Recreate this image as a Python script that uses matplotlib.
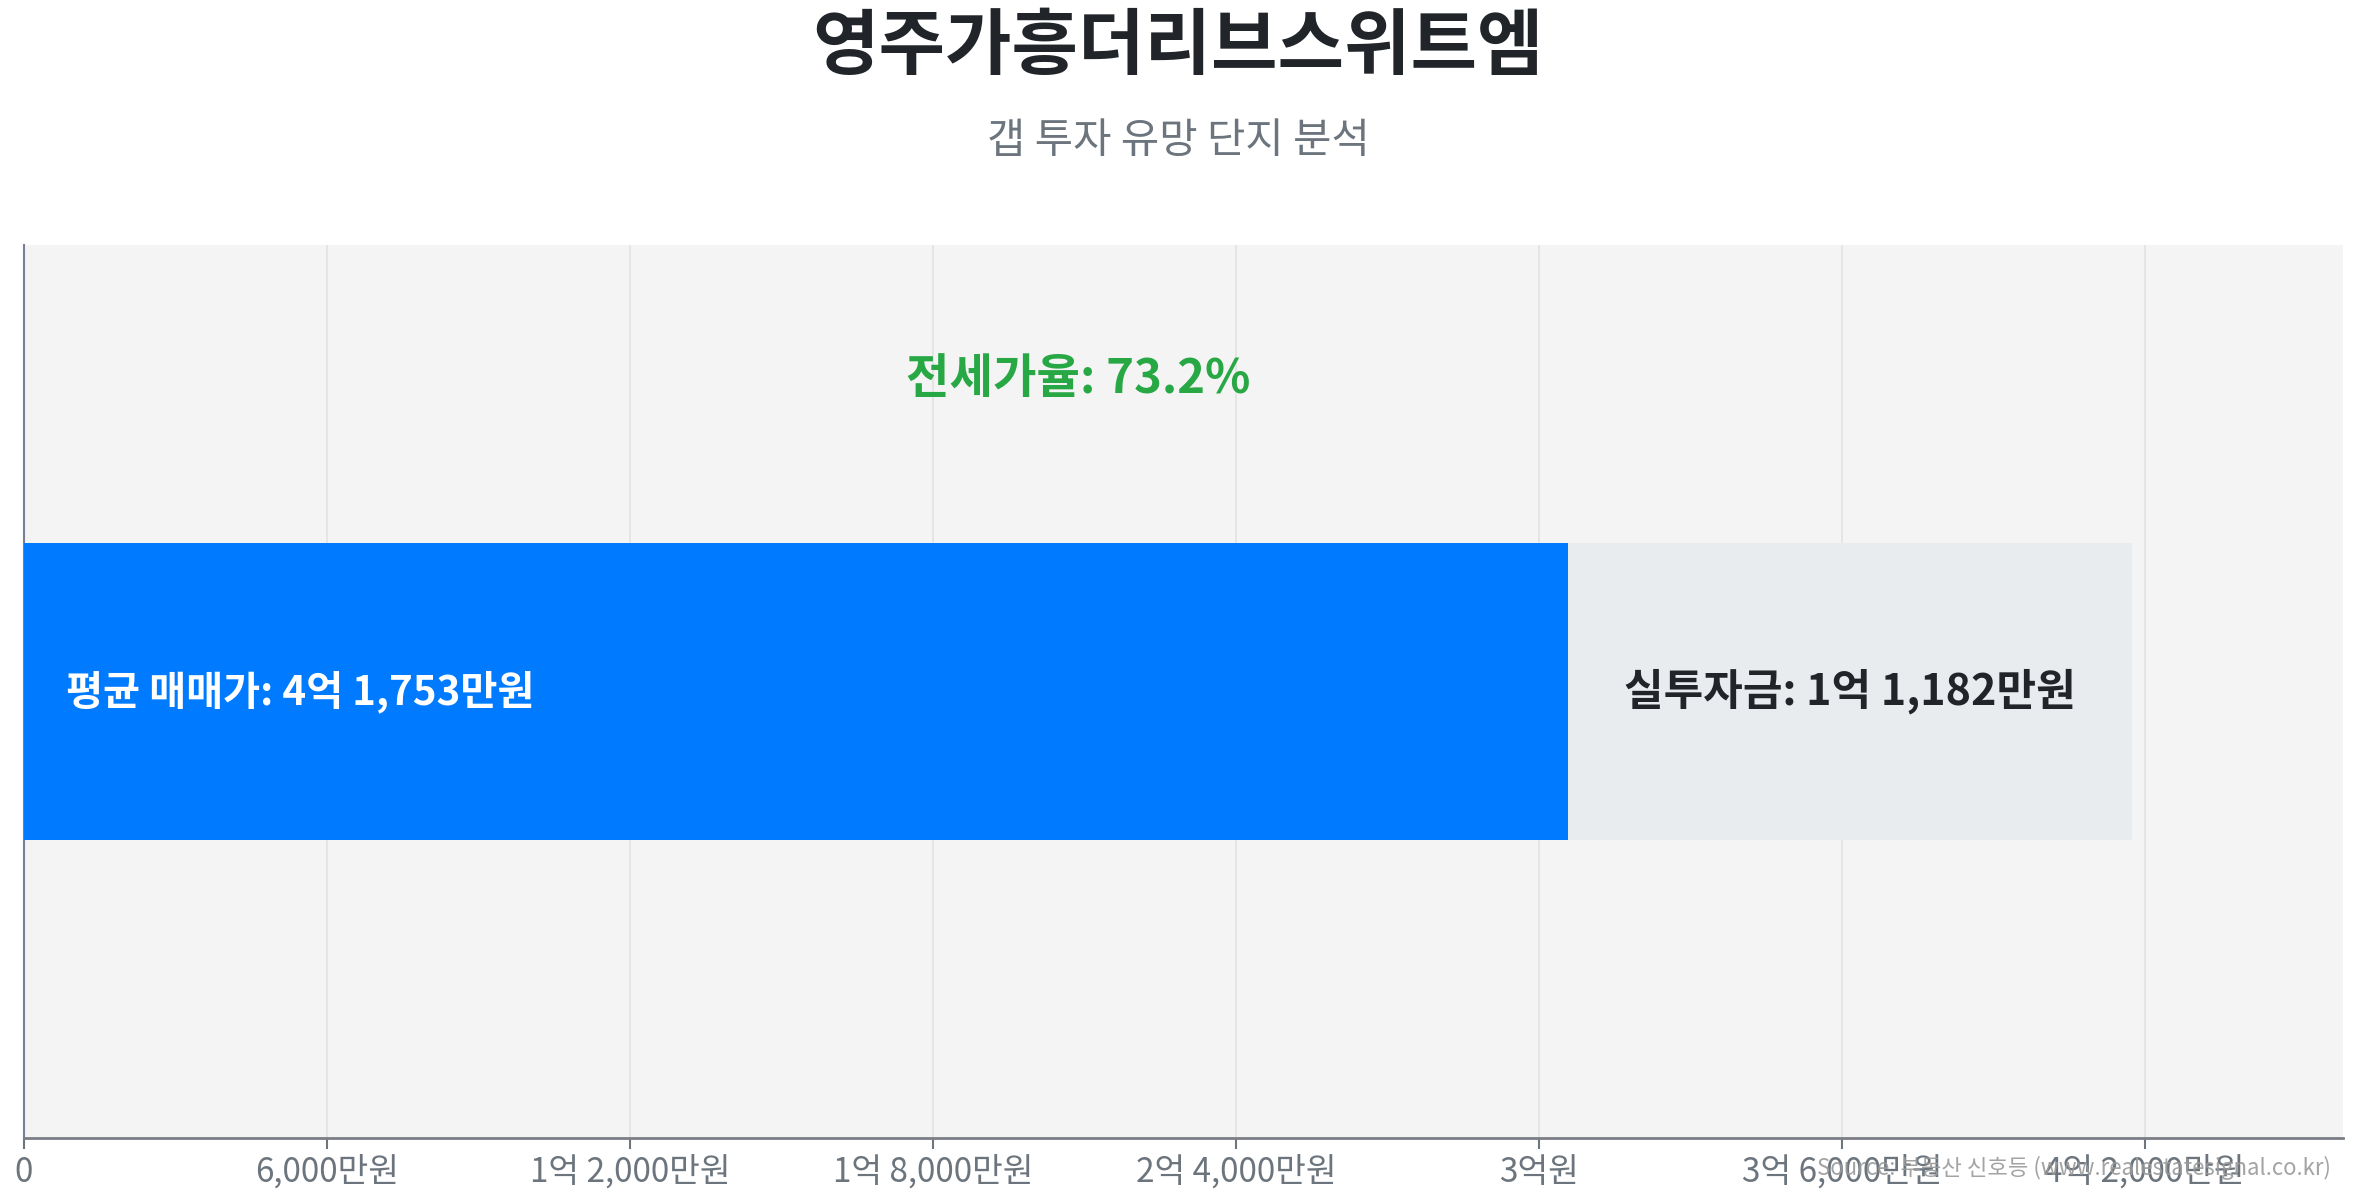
import matplotlib
matplotlib.use("Agg")
from matplotlib import pyplot as plt

plt.rcParams['font.family'] = ['Noto Sans CJK KR', 'DejaVu Sans']

# 단위: 만원
danji = "영주가흥더리브스위트엠"
maemae = 41753
gap = 11182
jeonse = maemae - gap
jeonse_rate = 73.2
ticks = [0, 6000, 12000, 18000, 24000, 30000, 36000, 42000]


def won(v):
    if v == 0:
        return "0"
    eok, man = divmod(int(v), 10000)
    if eok and man:
        return f"{eok}억 {man:,}만원"
    if eok:
        return f"{eok}억원"
    return f"{man:,}만원"


fig = plt.figure(figsize=(23.57, 12), dpi=100)
ax = fig.add_axes([0.0102, 0.0517, 0.9839, 0.7441])
ax.set_facecolor("#f4f4f4")

ax.barh(0, jeonse, height=1, color="#007bff", zorder=3)
ax.barh(0, gap, left=jeonse, height=1, color="#e9ecef", zorder=3)

ax.text(maemae * 0.02, 0, f"평균 매매가: {won(maemae)}", color="white",
        fontsize=29, fontweight="bold", va="center", ha="left", zorder=4)
ax.text(jeonse + gap / 2, 0, f"실투자금: {won(gap)}", color="#212529",
        fontsize=31, fontweight="bold", va="center", ha="center", zorder=4)
ax.text(maemae / 2, 1.05, f"전세가율: {jeonse_rate}%", color="#28a745",
        fontsize=34, fontweight="bold", va="center", ha="center", zorder=4)

ax.set_xlim(0, maemae * 1.1)
ax.set_ylim(-1.5, 1.5)
ax.set_yticks([])
ax.set_xticks(ticks)
ax.set_xticklabels([won(t) for t in ticks])
ax.tick_params(axis="x", colors="#6c757d", labelsize=24, length=8, width=1.5, pad=4)
ax.grid(axis="x", color="#e3e3e3", linewidth=1.2, zorder=0)

for s in ["top", "right"]:
    ax.spines[s].set_visible(False)
ax.spines["bottom"].set_color("#7a7f85")
ax.spines["bottom"].set_linewidth(2)
ax.spines["left"].set_color("#7a7f95")
ax.spines["left"].set_linewidth(1.5)

fig.text(0.5, 0.96, danji, ha="center", va="center", fontsize=52,
         fontweight="bold", color="#212529")
fig.text(0.5, 0.882, "갭 투자 유망 단지 분석", ha="center", va="center",
         fontsize=30, color="#6c757d")
fig.text(0.989, 0.027, "Source: 부동산 신호등 (www.realestatesignal.co.kr)",
         ha="right", va="center", fontsize=16, color="#999999", alpha=0.9)

fig.savefig("out.png", dpi=100)
